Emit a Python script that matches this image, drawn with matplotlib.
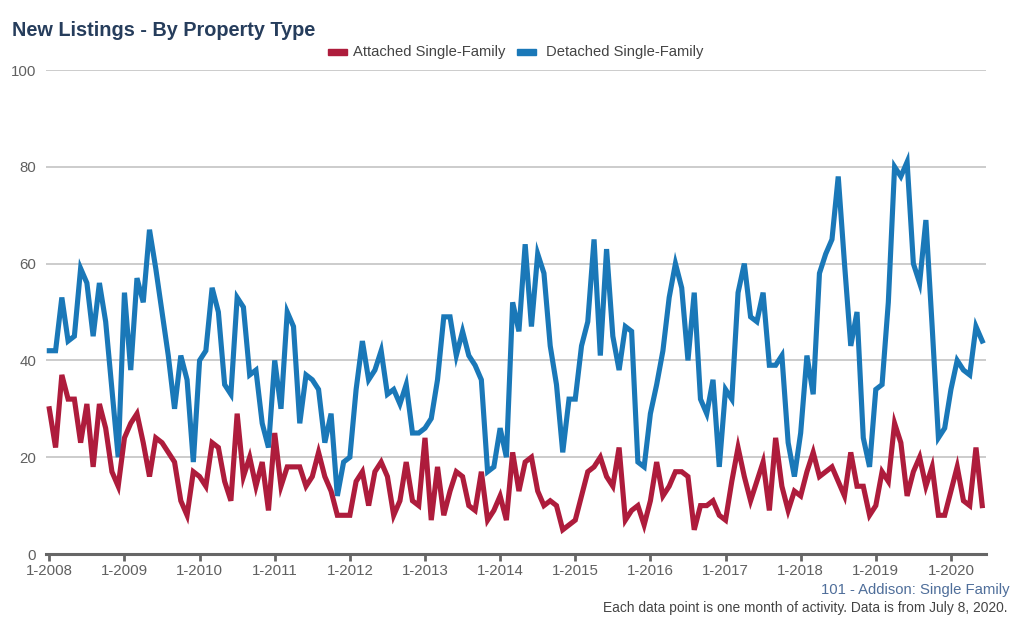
import matplotlib
matplotlib.use("Agg")
import matplotlib.pyplot as plt
from matplotlib.patches import Rectangle

plt.rcParams['font.family'] = ['Liberation Sans', 'DejaVu Sans']

attached = [30, 22, 37, 32, 32, 23, 31, 18, 31, 26, 17, 14,
            24, 27, 29, 23, 16, 24, 23, 21, 19, 11, 8, 17,
            16, 14, 23, 22, 15, 11, 29, 16, 20, 14, 19, 9,
            25, 14, 18, 18, 18, 14, 16, 21, 16, 13, 8, 8,
            8, 15, 17, 10, 17, 19, 16, 8, 11, 19, 11, 10,
            24, 7, 18, 8, 13, 17, 16, 10, 9, 17, 7, 9,
            12, 7, 21, 13, 19, 20, 13, 10, 11, 10, 5, 6,
            7, 12, 17, 18, 20, 16, 14, 22, 7, 9, 10, 6,
            11, 19, 12, 14, 17, 17, 16, 5, 10, 10, 11, 8,
            7, 15, 22, 16, 11, 15, 19, 9, 24, 14, 9, 13,
            12, 17, 21, 16, 17, 18, 15, 12, 21, 14, 14, 8,
            10, 17, 15, 27, 23, 12, 17, 20, 14, 18, 8, 8,
            13, 18, 11, 10, 22, 10]

detached = [42, 42, 53, 44, 45, 59, 56, 45, 56, 48, 34, 20,
            54, 38, 57, 52, 67, 59, 50, 41, 30, 41, 36, 19,
            40, 42, 55, 50, 35, 33, 53, 51, 37, 38, 27, 22,
            40, 30, 50, 47, 27, 37, 36, 34, 23, 29, 12, 19,
            20, 34, 44, 36, 38, 42, 33, 34, 31, 35, 25, 25,
            26, 28, 36, 49, 49, 41, 46, 41, 39, 36, 17, 18,
            26, 20, 52, 46, 64, 47, 62, 58, 43, 35, 21, 32,
            32, 43, 48, 65, 41, 63, 45, 38, 47, 46, 19, 18,
            29, 35, 42, 53, 60, 55, 40, 54, 32, 29, 36, 18,
            34, 32, 54, 60, 49, 48, 54, 39, 39, 41, 23, 16,
            25, 41, 33, 58, 62, 65, 78, 60, 43, 50, 24, 18,
            34, 35, 52, 80, 78, 81, 60, 56, 69, 47, 24, 26,
            34, 40, 38, 37, 47, 44]

years = list(range(2008, 2021))
tick_labels = [f"1-{y}" for y in years]
series_names = ["Attached Single-Family", "Detached Single-Family"]

RED = "#ae1c3c"
BLUE = "#1a78b8"

fig = plt.figure(figsize=(10.2, 6.21), dpi=100)
ax = fig.add_axes([46/1020, 1-554/621, (986-46)/1020, (554-70)/621])

months = list(range(len(attached)))
ax.plot(months, detached, color=BLUE, lw=3.7, solid_joinstyle='miter', zorder=3)
ax.plot(months, attached, color=RED, lw=3.7, solid_joinstyle='miter', zorder=4)

ax.set_xlim(-0.53, 149.6)
ax.set_ylim(0, 100)
ax.set_yticks([0, 20, 40, 60, 80, 100])
ax.set_xticks([12*i for i in range(len(years))])
ax.set_xticklabels(tick_labels)
ax.tick_params(axis='y', length=0, pad=7, labelsize=10.8, labelcolor='#606060')
ax.tick_params(axis='x', length=5, width=2, color='#666666', pad=2,
               labelsize=10.8, labelcolor='#606060')
ax.grid(axis='y', color='#c8c8c8', lw=1.3, zorder=0)
for s in ['top', 'right', 'left']:
    ax.spines[s].set_visible(False)
ax.spines['bottom'].set_color('#666666')
ax.spines['bottom'].set_linewidth(2.2)
ax.spines['bottom'].set_zorder(5)

fig.text(12/1020, 1-30/621, "New Listings - By Property Type", fontsize=14.3,
         fontweight='bold', color='#263d5c', ha='left', va='center')

# legend
ly = 1-52/621
fig.patches.append(Rectangle((328/1020, ly-3/621), 19/1020, 6/621,
                             transform=fig.transFigure, color=RED))
fig.text(353/1020, ly, series_names[0], fontsize=10.6, color='#444444',
         ha='left', va='center')
fig.patches.append(Rectangle((517/1020, ly-3/621), 19/1020, 6/621,
                             transform=fig.transFigure, color=BLUE))
fig.text(546/1020, ly, series_names[1], fontsize=10.6, color='#444444',
         ha='left', va='center')

fig.text(1010/1020, 1-590/621, "101 - Addison: Single Family", fontsize=10.7,
         color='#4f6e9a', ha='right', va='center')
fig.text(1008/1020, 1-608/621,
         "Each data point is one month of activity. Data is from July 8, 2020.",
         fontsize=9.9, color='#444444', ha='right', va='center')

fig.savefig("out.png", dpi=100)
